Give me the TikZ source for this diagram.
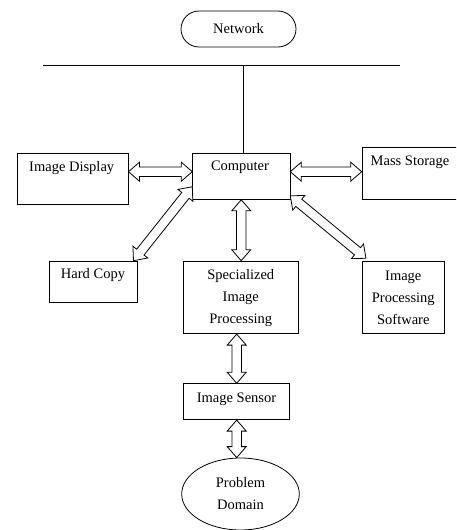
\documentclass[tikz,border=0pt]{standalone}
\usepackage{fontspec}
\setmainfont{Liberation Serif}
\usetikzlibrary{calc,shapes.geometric}
\tikzset{
  box/.style={draw, line width=0.8pt, inner sep=0pt, anchor=north west},
  txt/.style={font=\fontsize{14.5}{22}\selectfont, inner sep=0pt, align=center},
  hollowarr/.style={draw, line width=0.8pt, fill=white, line join=miter},
  plain/.style={draw, line width=0.9pt},
}
\newcommand\hollowarrow[2]{%
  \path let \p1=(#1), \p2=(#2), \n1={atan2(\y2-\y1,\x2-\x1)}, \n2={veclen(\x2-\x1,\y2-\y1)} in
    \pgfextra{\xdef\HAang{\n1}\xdef\HAlen{\n2}\xdef\HAx{\x1}\xdef\HAy{\y1}};
  \draw[hollowarr, shift={(\HAx,\HAy)}, rotate=\HAang]
    (0pt,0pt) -- (11pt,9.5pt) -- (11pt,4.7pt) -- ({\HAlen-11pt},4.7pt) -- ({\HAlen-11pt},9.5pt)
    -- ({\HAlen},0pt) -- ({\HAlen-11pt},-9.5pt) -- ({\HAlen-11pt},-4.7pt) -- (11pt,-4.7pt)
    -- (11pt,-9.5pt) -- cycle;
}
\begin{document}
\begin{tikzpicture}[x=1pt,y=-1pt]
\useasboundingbox (0,0) rectangle (456,530);
\clip (0,0) rectangle (456,530);

% network and bus
\node[draw, line width=0.8pt, rounded corners=18pt, minimum width=115pt, minimum height=36pt, txt] (net) at (238.5,29) {Network};
\coordinate (busL) at (43,65);
\coordinate (busR) at (400,65);
\coordinate (busJ) at (243,65);

% boxes
\node[box, minimum width=97.2pt, minimum height=45.7pt] (comp) at (192.3,153.3) {};
\node[box, minimum width=110.4pt, minimum height=50.7pt] (disp) at (17.3,153.3) {};
\node[box, minimum width=100pt, minimum height=52pt] (ms) at (361.7,147.3) {};
\node[box, minimum width=87.4pt, minimum height=41.6pt] (hc) at (49.3,260.7) {};
\node[box, minimum width=115pt, minimum height=72.6pt] (sip) at (183.3,260.7) {};
\node[box, minimum width=82.6pt, minimum height=72.6pt] (ips) at (361.7,260.7) {};
\node[box, minimum width=106pt, minimum height=36pt] (is) at (183.3,383.3) {};
\node[draw, line width=0.8pt, ellipse, inner sep=0pt, minimum width=117.6pt, minimum height=72pt, txt] (pd) at (240.5,494) {Problem\\Domain};

% texts
\node[txt] (compT) at (240,167) {Computer};
\node[txt] (dispT) at (71.7,168) {Image Display};
\node[txt] (msT) at (410,162.7) {Mass Storage};
\node[txt] (hcT) at (93,275) {Hard Copy};
\node[txt] (sipT) at (240.8,298.3) {Specialized\\Image\\Processing};
\node[txt] (ipsT) at (403.3,298.3) {Image\\Processing\\Software};
\node[txt] (isT) at (236.5,399) {Image Sensor};

% bus lines
\draw[plain] (busL) -- (busR);
\draw[plain] (busJ) -- (busJ |- comp.north);

% arrow end points
\coordinate (a1s) at ([yshift=-18.4pt]disp.north east);
\coordinate (a1e) at ([yshift=-18.4pt]comp.north west);
\coordinate (a2s) at ([yshift=-18.4pt]comp.north east);
\coordinate (a2e) at ([yshift=-24.4pt]ms.north west);
\coordinate (a3s) at ([xshift=-4pt]hc.north east);
\coordinate (a3e) at ([yshift=-33.4pt]comp.north west);
\coordinate (a4s) at (comp.south);
\coordinate (a4e) at (sip.north);
\coordinate (a5s) at ([yshift=4pt]comp.south east);
\coordinate (a5e) at ([xshift=4.3pt,yshift=2.4pt]ips.north west);
\coordinate (a6s) at (sip.south -| is.north);
\coordinate (a6e) at (is.north);
\coordinate (a7s) at (is.south);
\coordinate (a7e) at (is.south |- pd.north);

\hollowarrow{a1s}{a1e}
\hollowarrow{a2s}{a2e}
\hollowarrow{a3s}{a3e}
\hollowarrow{a4s}{a4e}
\hollowarrow{a5s}{a5e}
\hollowarrow{a6s}{a6e}
\hollowarrow{a7s}{a7e}
\end{tikzpicture}
\end{document}
